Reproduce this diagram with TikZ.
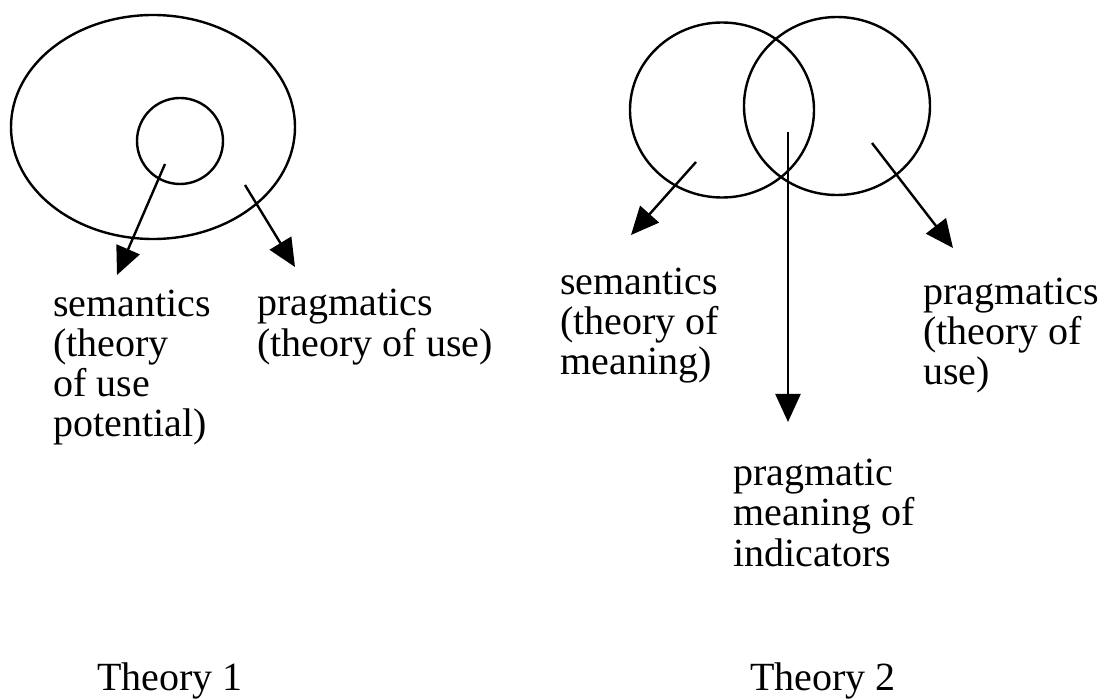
\documentclass[tikz,border=0pt]{standalone}
\usepackage{fontspec}
\setmainfont{Liberation Serif}
\usetikzlibrary{shapes.geometric,arrows.meta}
\tikzset{
  ring/.style={draw, ellipse, inner sep=0pt, line width=1.2bp},
  conn/.style={line width=1.2bp, -{Triangle[length=14bp,width=12.5bp]}},
  lbl/.style={anchor=base west, inner sep=0pt, align=left, font=\fontsize{20bp}{20bp}\selectfont}
}
\begin{document}
\begin{tikzpicture}[x=0.5bp,y=-0.5bp]
\useasboundingbox (0,0) rectangle (1105,700);
% Theory 1
\node[ring, minimum width=142bp, minimum height=112bp] (outer) at (153,127) {};
\node[ring, minimum width=43bp, minimum height=43bp] (inner) at (180,141) {};
\coordinate (s1) at (165,164);
\coordinate (t1) at (117,275);
\coordinate (s2) at (245,185);
\coordinate (t2) at (295,267);
\draw[conn] (s1) -- (t1);
\draw[conn] (s2) -- (t2);
% base anchor of a multi-line label lies on its last line
\node[lbl] (sem1) at (53,437) {semantics\\(theory\\of use\\potential)};
\node[lbl] (prag1) at (257,356) {pragmatics\\(theory of use)};
\node[lbl] (th1) at (97,690) {Theory 1};
% Theory 2
\node[ring, minimum width=92bp, minimum height=87.5bp] (left) at (722,110) {};
\node[ring, minimum width=93bp, minimum height=89bp] (right) at (837,106) {};
\coordinate (s3) at (696,162);
\coordinate (t3) at (631,235);
\coordinate (s4) at (788,132);
\coordinate (t4) at (788,422);
\coordinate (s5) at (872,143);
\coordinate (t5) at (953,248);
\draw[conn] (s3) -- (t3);
\draw[conn] (s4) -- (t4);
\draw[conn] (s5) -- (t5);
\node[lbl] (sem2) at (560,375) {semantics\\(theory of\\meaning)};
\node[lbl] (prag2) at (923,385) {pragmatics\\(theory of\\use)};
\node[lbl] (mid) at (733,566) {pragmatic\\meaning of\\indicators};
\node[lbl] (th2) at (750,690) {Theory 2};
\end{tikzpicture}
\end{document}
